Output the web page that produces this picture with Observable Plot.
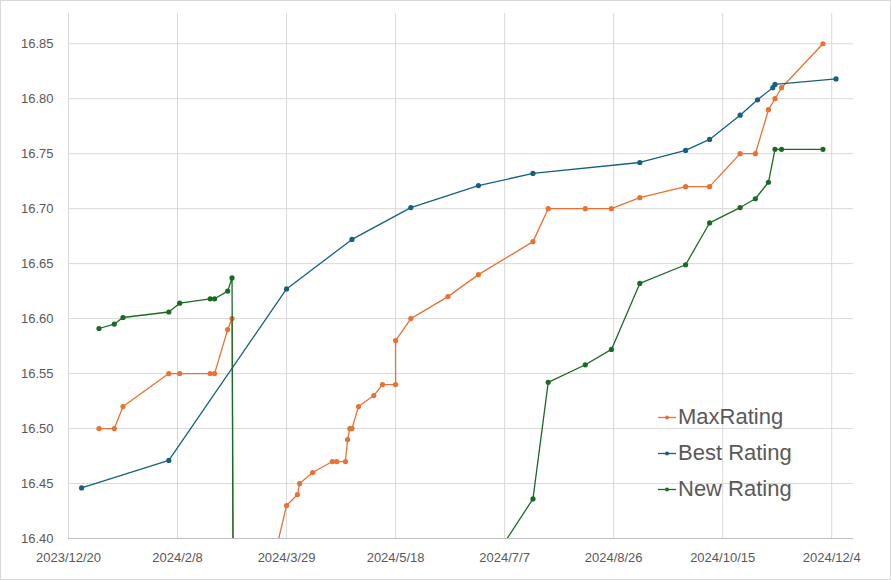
<!DOCTYPE html>
<html><head><meta charset="utf-8">
<script src="https://cdn.jsdelivr.net/npm/d3@7"></script>
<script src="https://cdn.jsdelivr.net/npm/@observablehq/plot@0.6"></script>
<style>
html,body{margin:0;padding:0;background:#fff;}
#wrap{position:relative;width:891px;height:580px;overflow:hidden;background:#fff;}
#chart{position:absolute;left:0;top:0;}
#legend{position:absolute;left:0;top:0;pointer-events:none;}
#border{position:absolute;left:0;top:0;right:0;bottom:0;border:1px solid #d9d9d9;pointer-events:none;}
</style></head><body>
<div id="wrap"><div id="chart"></div><svg id="legend" width="891" height="580"></svg><div id="border"></div></div>
<script>
// ---- data ----
const xDomain = ["2023-12-20", "2024-12-14"];
const xTickDates = ["2023-12-20","2024-02-08","2024-03-29","2024-05-18","2024-07-07","2024-08-26","2024-10-15","2024-12-04"];
const yDomain = [16.40, 16.8775];
const yTicks = [16.40,16.45,16.50,16.55,16.60,16.65,16.70,16.75,16.80,16.85];

const seriesNames = ["MaxRating","Best Rating","New Rating"];
const seriesColors = ["#E97132","#156082","#196B24"];

const maxDates = ["2024-01-03","2024-01-10","2024-01-14","2024-02-04","2024-02-09","2024-02-23","2024-02-25","2024-03-02","2024-03-04","2024-03-05","2024-03-29","2024-04-03","2024-04-04","2024-04-10","2024-04-19","2024-04-21","2024-04-25","2024-04-26","2024-04-27","2024-04-28","2024-05-01","2024-05-08","2024-05-12","2024-05-18","2024-05-18","2024-05-25","2024-06-11","2024-06-25","2024-07-20","2024-07-27","2024-08-13","2024-08-25","2024-09-07","2024-09-28","2024-10-09","2024-10-23","2024-10-30","2024-11-05","2024-11-08","2024-11-11","2024-11-30"];
const maxValues = [16.50,16.50,16.52,16.55,16.55,16.55,16.55,16.59,16.60,16.23,16.43,16.44,16.45,16.46,16.47,16.47,16.47,16.49,16.50,16.50,16.52,16.53,16.54,16.54,16.58,16.60,16.62,16.64,16.67,16.70,16.70,16.70,16.71,16.72,16.72,16.75,16.75,16.79,16.80,16.81,16.85];

const bestDates = ["2023-12-26","2024-02-04","2024-03-29","2024-04-28","2024-05-25","2024-06-25","2024-07-20","2024-09-07","2024-09-28","2024-10-09","2024-10-23","2024-10-31","2024-11-07","2024-11-08","2024-12-06"];
const bestValues = [16.446,16.471,16.627,16.672,16.701,16.721,16.732,16.742,16.753,16.763,16.785,16.799,16.810,16.813,16.818];

const newDates = ["2024-01-03","2024-01-10","2024-01-14","2024-02-04","2024-02-09","2024-02-23","2024-02-25","2024-03-02","2024-03-04","2024-03-05","2024-07-20","2024-07-27","2024-08-13","2024-08-25","2024-09-07","2024-09-28","2024-10-09","2024-10-23","2024-10-30","2024-11-05","2024-11-08","2024-11-11","2024-11-30"];
const newValues = [16.591,16.595,16.601,16.606,16.614,16.618,16.618,16.625,16.637,16.02,16.436,16.542,16.558,16.572,16.632,16.649,16.687,16.701,16.709,16.724,16.754,16.754,16.754];

// ---- build ----
const parse = d3.utcParse("%Y-%m-%d");
const rows = (name, dates, values) => dates.map((d, i) => ({series: name, date: parse(d), value: values[i]}));
const seriesData = [
  rows(seriesNames[0], maxDates, maxValues),
  rows(seriesNames[1], bestDates, bestValues),
  rows(seriesNames[2], newDates, newValues)
];
const xTicks = xTickDates.map(parse);
const textColor = "#595959";

const marks = [
  Plot.ruleX(xTicks, {stroke: "#d9d9d9", strokeWidth: 1}),
  Plot.ruleY(yTicks.slice(1), {stroke: "#d9d9d9", strokeWidth: 1}),
  Plot.ruleY([yDomain[0]], {stroke: "#bfbfbf", strokeWidth: 1})
];
seriesData.forEach((d, i) => {
  marks.push(Plot.line(d, {x: "date", y: "value", stroke: seriesColors[i], strokeWidth: 1.3, clip: true}));
  marks.push(Plot.dot(d, {x: "date", y: "value", fill: seriesColors[i], r: 2.6, clip: true}));
});

const chart = Plot.plot({
  width: 891, height: 580,
  marginLeft: 68, marginRight: 38, marginTop: 13, marginBottom: 42,
  style: {background: "transparent", fontFamily: "'Liberation Sans', Arial, sans-serif", fontSize: "13px", color: textColor},
  x: {type: "utc", domain: xDomain.map(parse), ticks: xTicks, tickFormat: d3.utcFormat("%Y/%-m/%-d"), tickSize: 0, tickPadding: 14, label: null},
  y: {domain: yDomain, ticks: yTicks, tickFormat: d3.format(".2f"), tickSize: 0, tickPadding: 15, label: null},
  marks
});
document.getElementById("chart").appendChild(chart);

// ---- legend (inside plot area) ----
const lg = d3.select("#legend");
seriesNames.forEach((name, i) => {
  const base = 424 + 36 * i;
  const sy = base - 6.5;
  const g = lg.append("g");
  g.append("line").attr("x1", 658).attr("x2", 676).attr("y1", sy).attr("y2", sy).attr("stroke", seriesColors[i]).attr("stroke-width", 1.3);
  g.append("circle").attr("cx", 667).attr("cy", sy).attr("r", 2).attr("fill", seriesColors[i]);
  g.append("text").attr("x", 678).attr("y", base).attr("fill", textColor)
    .attr("font-family", "'Liberation Sans', Arial, sans-serif").attr("font-size", 22).text(name);
});
</script>
</body></html>
